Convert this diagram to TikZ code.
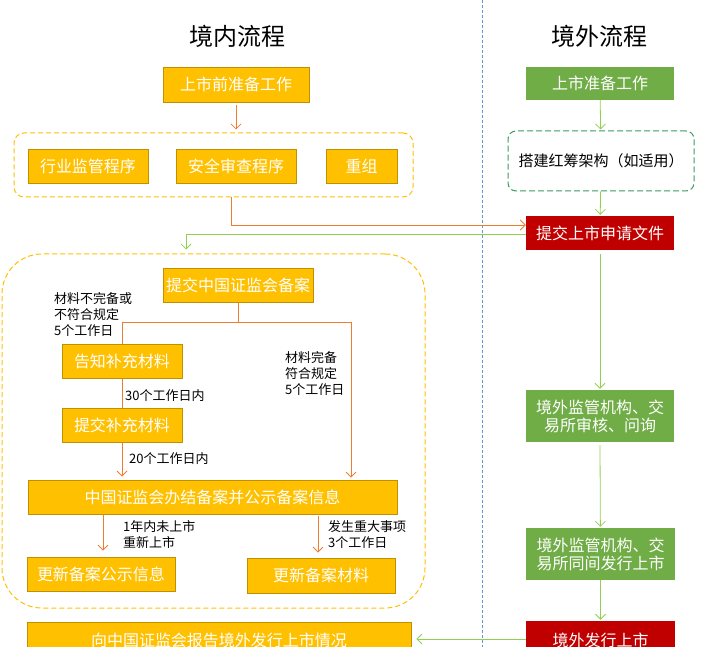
\documentclass[tikz,border=0pt]{standalone}
\usepackage{fontspec}
\setmainfont{Noto Sans CJK SC}
\usetikzlibrary{arrows.meta}
\definecolor{ygold}{HTML}{FFC000}
\definecolor{ygoldline}{HTML}{BF9000}
\definecolor{orline}{HTML}{ED7D31}
\definecolor{okgreen}{HTML}{70AD47}
\definecolor{ltgreen}{HTML}{92D050}
\definecolor{hcgreen}{HTML}{3A9A68}
\definecolor{okred}{HTML}{C00000}
\definecolor{divblue}{HTML}{5B9BD5}
\tikzset{%
  ybox/.style={draw=ygoldline,fill=ygold,text=white,line width=0.8pt,inner sep=0,font=\fontsize{16}{18}\selectfont},
  gbox/.style={fill=okgreen,text=white,inner sep=0,align=center,font=\fontsize{16}{18}\selectfont},
  rbox/.style={fill=okred,text=white,inner sep=0,font=\fontsize{16}{18}\selectfont},
  ttl/.style={font=\fontsize{24}{28}\selectfont},
  note/.style={font=\fontsize{13}{16}\selectfont,align=left,inner sep=0},
  oline/.style={draw=orline,line width=0.8pt},
  oarrow/.style={oline,-{Straight Barb[length=5pt,width=10pt]}},
  garrow/.style={draw=ltgreen,line width=0.8pt,-{Straight Barb[length=5pt,width=10pt]},shorten >=1pt},
  yframe/.style={draw=ygold,dashed,line width=1pt,dash pattern=on 5pt off 3pt}
}
\begin{document}
\begin{tikzpicture}[x=1pt,y=-1pt]
  \clip (0,0) rectangle (705,647);
  \draw[divblue,line width=0.8pt,dash pattern=on 3pt off 2pt] (482,0) -- (482,647);

  \node[ttl] (tin) at (237,36) {境内流程};
  \node[ttl] (tout) at (599,36) {境外流程};

  % domestic
  \node[ybox,minimum width=146pt,minimum height=35pt] (prep) at (236,84.5) {上市前准备工作};
  \node[yframe,rounded corners=10pt,minimum width=399pt,minimum height=64pt] (grp) at (213.5,165) {};
  \node[ybox,minimum width=120pt,minimum height=34pt] (hy) at (88,166) {行业监管程序};
  \node[ybox,minimum width=120pt,minimum height=34pt] (aq) at (236,166) {安全审查程序};
  \node[ybox,minimum width=71pt,minimum height=34pt] (cz) at (361.5,166) {重组};

  \node[yframe,rounded corners=40pt,minimum width=423pt,minimum height=354pt] (bigfr) at (213.5,431) {};
  \node[ybox,minimum width=150pt,minimum height=34pt] (csrc) at (238,285) {提交中国证监会备案};
  \node[ybox,minimum width=120pt,minimum height=34pt] (gz) at (122,361) {告知补充材料};
  \node[ybox,minimum width=120pt,minimum height=34pt] (tj) at (122,425) {提交补充材料};
  \node[ybox,minimum width=369pt,minimum height=34pt] (bj) at (212.5,497) {中国证监会办结备案并公示备案信息};
  \node[ybox,minimum width=148pt,minimum height=34pt] (gx1) at (101,574) {更新备案公示信息};
  \node[ybox,minimum width=148pt,minimum height=35pt] (gx2) at (321,575.5) {更新备案材料};
  \node[ybox,minimum width=384pt,minimum height=36pt] (rep) at (219,640) {向中国证监会报告境外发行上市情况};

  \node[note,anchor=north west] (n1) at (54,292) {材料不完备或\\不符合规定\\5个工作日};
  \node[note,anchor=west] (n2) at (125,396) {30个工作日内};
  \node[note,anchor=north west] (n3) at (285,351) {材料完备\\符合规定\\5个工作日};
  \node[note,anchor=west] (n4) at (129,459) {20个工作日内};
  \node[note,anchor=north west] (n5) at (123,520) {1年内未上市\\重新上市};
  \node[note,anchor=north west] (n6) at (328,520) {发生重大事项\\3个工作日};

  % overseas
  \node[gbox,minimum width=148pt,minimum height=33pt] (oprep) at (600,83.5) {上市准备工作};
  \node[draw=hcgreen,line width=1pt,dash pattern=on 6pt off 3pt,rounded corners=8pt,minimum width=186pt,minimum height=60pt,
        font=\fontsize{15}{18}\selectfont,inner sep=0] (hc) at (601,161) {搭建红筹架构（如适用）};
  \node[rbox,minimum width=148pt,minimum height=34pt] (sub) at (600,233) {提交上市申请文件};
  \node[gbox,minimum width=148pt,minimum height=52pt] (rev) at (600,416) {境外监管机构、交\\易所审核、问询};
  \node[gbox,minimum width=149pt,minimum height=52pt] (iss) at (600.5,554) {境外监管机构、交\\易所同间发行上市};
  \node[rbox,minimum width=149pt,minimum height=38pt] (lst) at (600.5,640) {境外发行上市};

  % connectors
  \draw[oarrow] ([yshift=-3pt]prep.south) -- ([yshift=3pt]prep.south |- grp.north);
  \draw[oarrow] ([xshift=-5pt]prep.south |- grp.south) |- ([yshift=8pt]sub.west);
  \draw[garrow] ([yshift=-1pt]sub.west) -| ([xshift=-27.5pt,yshift=3pt]bigfr.north);

  \coordinate (brl) at (122,322);
  \coordinate (brr) at (351,322);
  \draw[oline] (csrc.south) -- (csrc.south |- brl);
  \draw[oline] (brl) -- (brr);
  \draw[oline] (brl) -- (gz.north);
  \draw[oarrow] (brr) -- ([yshift=2pt]brr |- bj.north);
  \draw[oline] (gz.south) -- (tj.north);
  \draw[oarrow] (tj.south) -- ([yshift=3pt]tj.south |- bj.north);
  \draw[oarrow] ([xshift=2pt]gx1.north |- bj.south) -- ([xshift=2pt,yshift=6pt]gx1.north);
  \draw[oarrow] ([xshift=-3pt,yshift=-2pt]gx2.north |- bj.south) -- ([xshift=-3pt,yshift=5pt]gx2.north);

  \draw[garrow] (oprep) -- (hc);
  \draw[garrow] (hc) -- (sub);
  \draw[garrow] ([yshift=-4pt]sub.south) -- (rev);
  \draw[garrow] ([yshift=-3pt]rev.south) -- (iss);
  \draw[garrow] (iss) -- (lst);
  \draw[garrow,shorten >=5pt] ([yshift=1pt]lst.west) -- ([yshift=1pt]rep.east);
\end{tikzpicture}
\end{document}
